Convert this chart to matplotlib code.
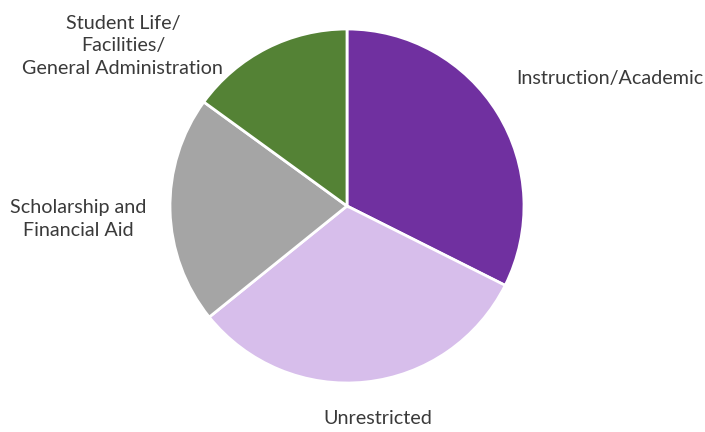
import matplotlib.pyplot as plt

labels = ['Instruction/Academic', 'Unrestricted', 'Scholarship and\nFinancial Aid',
          'Student Life/\nFacilities/\nGeneral Administration']
shares = [32.4, 31.8, 20.8, 15.0]
colors = ['#7030A0', '#D7BEEB', '#A5A5A5', '#548235']

# label anchor points (data units, pie radius = 1) and alignment
label_pos = [(0.955, 0.723, 'left'), (0.175, -1.198, 'center'),
             (-1.52, -0.073, 'center'), (-1.266, 0.904, 'center')]

fig = plt.figure(figsize=(7.05, 4.32), dpi=100)
ax = fig.add_axes([0, 0, 1, 1])

ax.pie(shares, colors=colors, startangle=90, counterclock=False, radius=1,
       wedgeprops=dict(edgecolor='white', linewidth=2))

for txt, (x, y, ha) in zip(labels, label_pos):
    ax.text(x, y, txt, ha=ha, va='center', fontsize=14.2, family='Lato',
            color='#3a3a3a', linespacing=1.42)

ax.set_xlim(-347 / 177, (705 - 347) / 177)
ax.set_ylim(-(432 - 206) / 177, 206 / 177)
ax.set_aspect('equal')
ax.axis('off')

plt.savefig('out.png', dpi=100)
